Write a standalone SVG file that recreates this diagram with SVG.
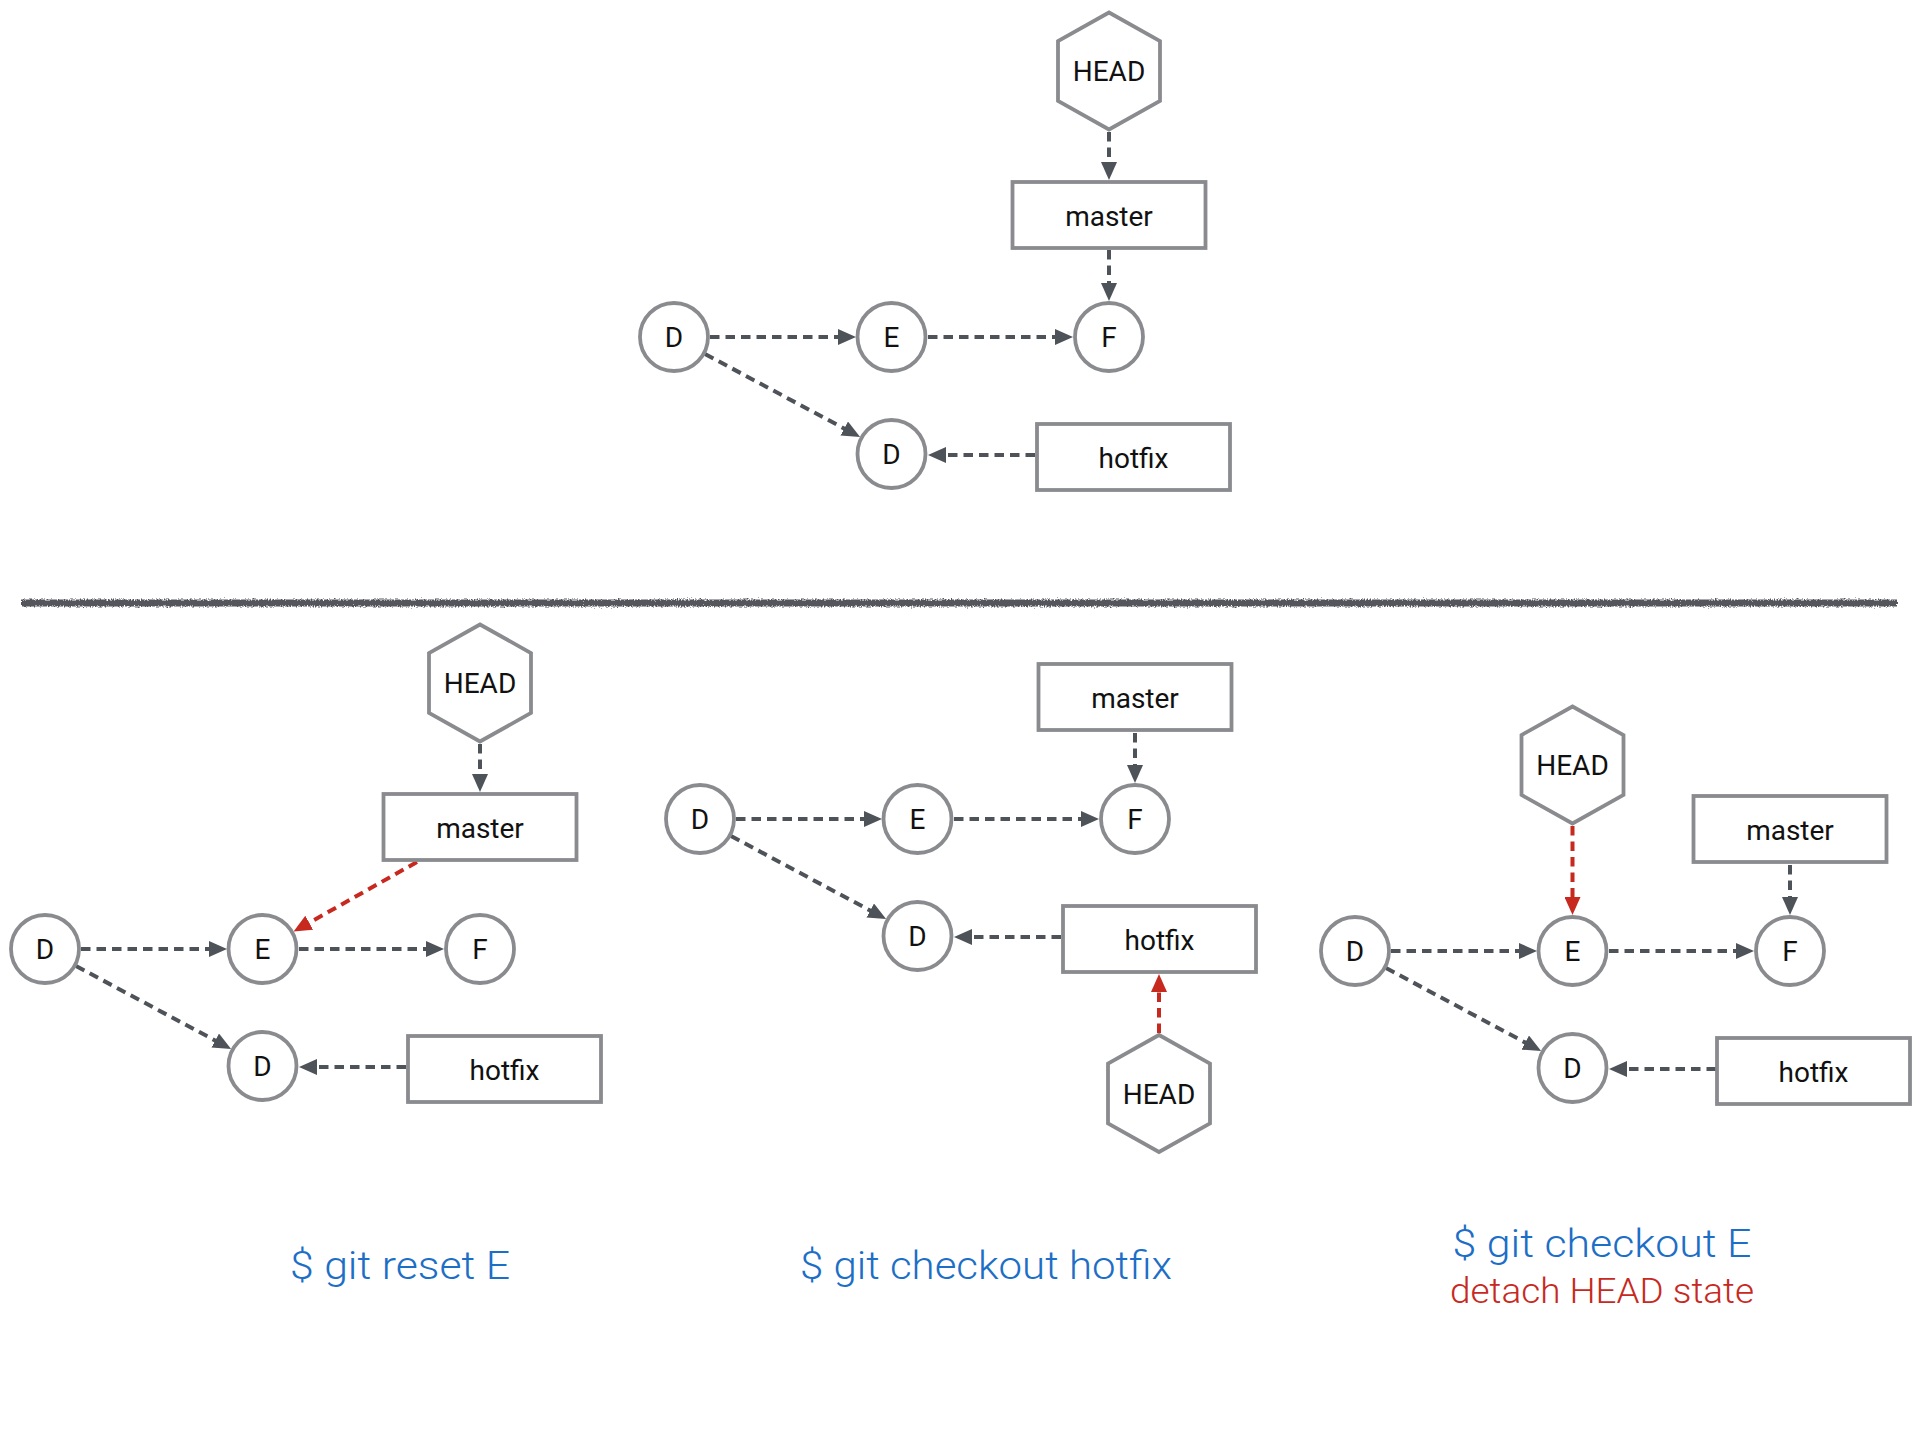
<svg xmlns="http://www.w3.org/2000/svg" width="1926" height="1436" viewBox="0 0 1926 1436">
<style>
  .node { fill: #ffffff; stroke: #8a8b8f; stroke-width: 3.8; }
  .lbl { font-family: Roboto, "Liberation Sans", Arial, sans-serif; font-weight: 400; font-size: 28px; fill: #111111; text-anchor: middle; }
  .conn { fill: none; stroke: #4e5259; stroke-width: 4; stroke-dasharray: 9.5 6; marker-end: url(#arrow); }
  .conn.red { stroke: #c8291e; marker-end: url(#arrowRed); }
  .cmd { font-family: Roboto, "Liberation Sans", Arial, sans-serif; font-weight: 300; font-size: 39px; fill: #1c6ec6; text-anchor: middle; }
  .note { font-family: Roboto, "Liberation Sans", Arial, sans-serif; font-weight: 300; font-size: 35px; fill: #c8291e; text-anchor: middle; }
</style>
<defs>
  <marker id="arrow" markerUnits="userSpaceOnUse" markerWidth="18" markerHeight="16" refX="2" refY="8" orient="auto">
    <path d="M0,0 L18,8 L0,16 Z" fill="#4e5259"/>
  </marker>
  <marker id="arrowRed" markerUnits="userSpaceOnUse" markerWidth="18" markerHeight="16" refX="2" refY="8" orient="auto">
    <path d="M0,0 L18,8 L0,16 Z" fill="#c8291e"/>
  </marker>
  <filter id="rough" filterUnits="userSpaceOnUse" x="10" y="588" width="1900" height="30">
    <feTurbulence type="fractalNoise" baseFrequency="0.7" numOctaves="2" seed="3" result="n"/>
    <feDisplacementMap in="SourceGraphic" in2="n" scale="5" xChannelSelector="R" yChannelSelector="G"/>
  </filter>
</defs>
<rect width="1926" height="1436" fill="#ffffff"/>

<!-- separator -->
<rect x="21" y="599.5" width="1876" height="7" fill="#55575c" filter="url(#rough)"/>

<!-- connectors -->
<g id="connectors">
  <!-- top panel -->
  <path class="conn" d="M1109,132 L1109,164"/>
  <path class="conn" d="M1109,250 L1109,285"/>
  <path class="conn" d="M710,337 L840,337"/>
  <path class="conn" d="M928,337 L1057,337"/>
  <path class="conn" d="M705,354 L846,429.5"/>
  <path class="conn" d="M1035,455 L944,455"/>
  <!-- panel 1: git reset E -->
  <path class="conn" d="M480,744 L480,776"/>
  <path class="conn red" d="M417,862 L307.5,923.7"/>
  <path class="conn" d="M81,949 L211,949"/>
  <path class="conn" d="M299,949 L428,949"/>
  <path class="conn" d="M76,966 L217,1041.5"/>
  <path class="conn" d="M406,1067 L315,1067"/>
  <!-- panel 2: git checkout hotfix -->
  <path class="conn" d="M1135,733 L1135,767"/>
  <path class="conn" d="M736,819 L866,819"/>
  <path class="conn" d="M954,819 L1083,819"/>
  <path class="conn" d="M731,836 L872,911.5"/>
  <path class="conn" d="M1061,937 L970,937"/>
  <path class="conn red" d="M1159,1033 L1159,990"/>
  <!-- panel 3: git checkout E -->
  <path class="conn red" d="M1572.5,826 L1572.5,899"/>
  <path class="conn" d="M1790,865 L1790,899"/>
  <path class="conn" d="M1391,951 L1521,951"/>
  <path class="conn" d="M1609,951 L1738,951"/>
  <path class="conn" d="M1386,968 L1527,1043.5"/>
  <path class="conn" d="M1716,1069 L1625,1069"/>
</g>

<!-- top panel nodes -->
<g id="t-head"><polygon class="node" points="1109,12.5 1160,41 1160,101 1109,129.5 1058,101 1058,41"/><text class="lbl" x="1109" y="81">HEAD</text></g>
<g id="t-master"><rect class="node" x="1012.5" y="182" width="193" height="66"/><text class="lbl" x="1109" y="226">master</text></g>
<g id="t-D"><circle class="node" cx="674" cy="337" r="34"/><text class="lbl" x="674" y="347">D</text></g>
<g id="t-E"><circle class="node" cx="891.5" cy="337" r="34"/><text class="lbl" x="891.5" y="347">E</text></g>
<g id="t-F"><circle class="node" cx="1109" cy="337" r="34"/><text class="lbl" x="1109" y="347">F</text></g>
<g id="t-D2"><circle class="node" cx="891.5" cy="454" r="34"/><text class="lbl" x="891.5" y="464">D</text></g>
<g id="t-hotfix"><rect class="node" x="1037" y="424" width="193" height="66"/><text class="lbl" x="1133.5" y="468">hotfix</text></g>

<!-- panel 1 nodes -->
<g id="p1-head"><polygon class="node" points="480,624.5 531,653 531,713 480,741.5 429,713 429,653"/><text class="lbl" x="480" y="693">HEAD</text></g>
<g id="p1-master"><rect class="node" x="383.5" y="794" width="193" height="66"/><text class="lbl" x="480" y="838">master</text></g>
<g id="p1-D"><circle class="node" cx="45" cy="949" r="34"/><text class="lbl" x="45" y="959">D</text></g>
<g id="p1-E"><circle class="node" cx="262.5" cy="949" r="34"/><text class="lbl" x="262.5" y="959">E</text></g>
<g id="p1-F"><circle class="node" cx="480" cy="949" r="34"/><text class="lbl" x="480" y="959">F</text></g>
<g id="p1-D2"><circle class="node" cx="262.5" cy="1066" r="34"/><text class="lbl" x="262.5" y="1076">D</text></g>
<g id="p1-hotfix"><rect class="node" x="408" y="1036" width="193" height="66"/><text class="lbl" x="504.5" y="1080">hotfix</text></g>

<!-- panel 2 nodes -->
<g id="p2-master"><rect class="node" x="1038.5" y="664" width="193" height="66"/><text class="lbl" x="1135" y="708">master</text></g>
<g id="p2-D"><circle class="node" cx="700" cy="819" r="34"/><text class="lbl" x="700" y="829">D</text></g>
<g id="p2-E"><circle class="node" cx="917.5" cy="819" r="34"/><text class="lbl" x="917.5" y="829">E</text></g>
<g id="p2-F"><circle class="node" cx="1135" cy="819" r="34"/><text class="lbl" x="1135" y="829">F</text></g>
<g id="p2-D2"><circle class="node" cx="917.5" cy="936" r="34"/><text class="lbl" x="917.5" y="946">D</text></g>
<g id="p2-hotfix"><rect class="node" x="1063" y="906" width="193" height="66"/><text class="lbl" x="1159.5" y="950">hotfix</text></g>
<g id="p2-head"><polygon class="node" points="1159,1035 1210,1063.5 1210,1123.5 1159,1152 1108,1123.5 1108,1063.5"/><text class="lbl" x="1159" y="1103.5">HEAD</text></g>

<!-- panel 3 nodes -->
<g id="p3-head"><polygon class="node" points="1572.5,706.5 1623.5,735 1623.5,795 1572.5,823.5 1521.5,795 1521.5,735"/><text class="lbl" x="1572.5" y="775">HEAD</text></g>
<g id="p3-master"><rect class="node" x="1693.5" y="796" width="193" height="66"/><text class="lbl" x="1790" y="840">master</text></g>
<g id="p3-D"><circle class="node" cx="1355" cy="951" r="34"/><text class="lbl" x="1355" y="961">D</text></g>
<g id="p3-E"><circle class="node" cx="1572.5" cy="951" r="34"/><text class="lbl" x="1572.5" y="961">E</text></g>
<g id="p3-F"><circle class="node" cx="1790" cy="951" r="34"/><text class="lbl" x="1790" y="961">F</text></g>
<g id="p3-D2"><circle class="node" cx="1572.5" cy="1068" r="34"/><text class="lbl" x="1572.5" y="1078">D</text></g>
<g id="p3-hotfix"><rect class="node" x="1717" y="1038" width="193" height="66"/><text class="lbl" x="1813.5" y="1082">hotfix</text></g>

<!-- captions -->
<g id="captions">
  <text class="cmd" x="400" y="1279" textLength="220" lengthAdjust="spacingAndGlyphs">$ git reset E</text>
  <text class="cmd" x="986" y="1279" textLength="372" lengthAdjust="spacingAndGlyphs">$ git checkout hotfix</text>
  <text class="cmd" x="1602" y="1257" textLength="299" lengthAdjust="spacingAndGlyphs">$ git checkout E</text>
  <text class="note" x="1602" y="1303" textLength="304" lengthAdjust="spacingAndGlyphs">detach HEAD state</text>
</g>
</svg>
